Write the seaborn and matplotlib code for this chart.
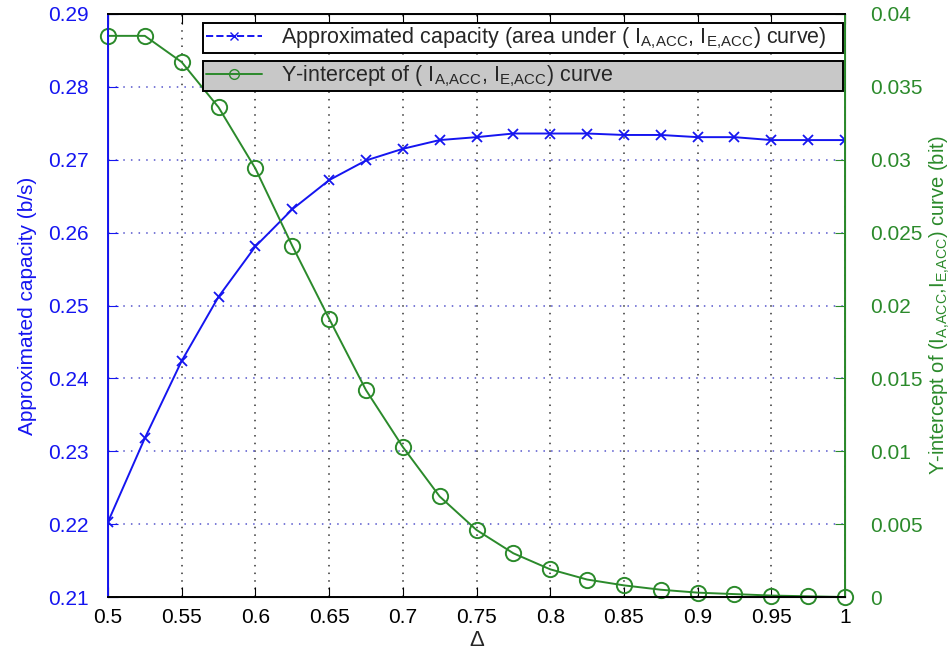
import numpy as np
import pandas as pd
import matplotlib
matplotlib.use("Agg")
import matplotlib.pyplot as plt
from matplotlib.lines import Line2D
import seaborn as sns

# values
delta = [0.5, 0.525, 0.55, 0.575, 0.6, 0.625, 0.65, 0.675, 0.7, 0.725, 0.75,
         0.775, 0.8, 0.825, 0.85, 0.875, 0.9, 0.925, 0.95, 0.975, 1.0]
capacity = [0.2203, 0.2318, 0.2424, 0.2512, 0.2581, 0.2632, 0.2672, 0.2699, 0.2715,
            0.2727, 0.2731, 0.2736, 0.2736, 0.2736, 0.2734, 0.2734, 0.2731, 0.2731,
            0.2727, 0.2727, 0.2727]
intercept = [0.0385, 0.0385, 0.0367, 0.0336, 0.0294, 0.0241, 0.0191, 0.0142, 0.0103,
             0.0069, 0.0046, 0.0030, 0.0019, 0.0012, 0.0008, 0.0005, 0.0003, 0.0002,
             0.0001, 0.00005, 0.0]
xticks = [0.5, 0.55, 0.6, 0.65, 0.7, 0.75, 0.8, 0.85, 0.9, 0.95, 1.0]
xticklabels = ["0.5", "0.55", "0.6", "0.65", "0.7", "0.75", "0.8", "0.85", "0.9", "0.95", "1"]
lticks = [0.21, 0.22, 0.23, 0.24, 0.25, 0.26, 0.27, 0.28, 0.29]
rticks = [0, 0.005, 0.01, 0.015, 0.02, 0.025, 0.03, 0.035, 0.04]
rticklabels = ["0", "0.005", "0.01", "0.015", "0.02", "0.025", "0.03", "0.035", "0.04"]

df = pd.DataFrame({"delta": delta, "capacity": capacity, "intercept": intercept})

sns.set_style("ticks")
plt.rcParams["font.family"] = ["Liberation Sans", "DejaVu Sans"]
plt.rcParams["mathtext.fontset"] = "custom"
plt.rcParams["mathtext.rm"] = "Liberation Sans"
plt.rcParams["mathtext.it"] = "Liberation Sans"

blue = "#1515f0"
green = "#2b8a2b"

fig = plt.figure(figsize=(9.53, 6.57), dpi=100)
ax = fig.add_axes([0.1133, 0.0913, 0.7734, 0.8874])
ax2 = ax.twinx()

sns.lineplot(data=df, x="delta", y="capacity", ax=ax, color=blue, marker="x",
             markersize=7, markeredgewidth=1.3, linewidth=1.4, markeredgecolor=blue)
sns.lineplot(data=df, x="delta", y="intercept", ax=ax2, color=green, marker="o",
             markersize=11, markerfacecolor="none", markeredgecolor=green,
             markeredgewidth=1.4, linewidth=1.4, clip_on=False)

ax.set_xlim(0.5, 1.0)
ax.set_ylim(0.21, 0.29)
ax2.set_ylim(0, 0.04)
ax.set_xticks(xticks)
ax.set_xticklabels(xticklabels)
ax.set_yticks(lticks)
ax2.set_yticks(rticks)
ax2.set_yticklabels(rticklabels)

# grid: vertical black dotted, horizontal blue dotted
ax.grid(axis="x", color="#333333", linestyle=(0, (1, 4)), linewidth=1.1)
ax.grid(axis="y", color="#5555cc", linestyle=(0, (1, 4)), linewidth=1.1)
ax.set_axisbelow(True)

ax.tick_params(axis="x", direction="in", top=True, length=7, labelsize=15, colors="black", pad=8)
ax.tick_params(axis="y", direction="in", length=7, labelsize=15, colors=blue, pad=14)
ax2.tick_params(axis="y", direction="in", length=7, labelsize=15, colors=green, pad=18)

for s in ["top", "bottom"]:
    ax2.spines[s].set_color("black")
ax2.spines["left"].set_color(blue)
ax2.spines["right"].set_color(green)
for s in ax2.spines.values():
    s.set_linewidth(1.4)

ax.set_xlabel("Δ", fontsize=16, labelpad=2)
ax.set_ylabel("Approximated capacity (b/s)", fontsize=15, color=blue, labelpad=8)
ax2.set_ylabel(r"Y-intercept of (I$_{A,\!ACC}$,I$_{E,\!ACC}$) curve (bit)", fontsize=14.5,
               color=green, labelpad=4)

# two separate legend boxes like the reference
h1 = Line2D([], [], color=blue, linestyle="--", marker="x", markersize=6, linewidth=1.4)
h2 = Line2D([], [], color=green, linestyle="-", marker="o", markersize=7,
            markerfacecolor="none", linewidth=1.4)
leg1 = ax2.legend([h1], [r"Approximated capacity (area under ( I$_{A,\!ACC}$, I$_{E,\!ACC}$) curve)"],
                  loc="upper left", bbox_to_anchor=(0.129, 0.985, 0.868, 0.0), mode="expand",
                  fontsize=15.5, fancybox=False, edgecolor="black", facecolor="white",
                  framealpha=1, borderaxespad=0, borderpad=0.12, handlelength=2.6,
                  handletextpad=0.9)
leg1.get_frame().set_linewidth(1.4)
ax2.add_artist(leg1)
leg2 = ax2.legend([h2], [r"Y-intercept of ( I$_{A,\!ACC}$, I$_{E,\!ACC}$) curve"],
                  loc="upper left", bbox_to_anchor=(0.129, 0.92, 0.868, 0.0), mode="expand",
                  fontsize=15.5, fancybox=False, edgecolor="black", facecolor="#c8c8c8",
                  framealpha=1, borderaxespad=0, borderpad=0.12, handlelength=2.6,
                  handletextpad=0.9)
leg2.get_frame().set_linewidth(1.4)

fig.savefig("out.png", dpi=100)
